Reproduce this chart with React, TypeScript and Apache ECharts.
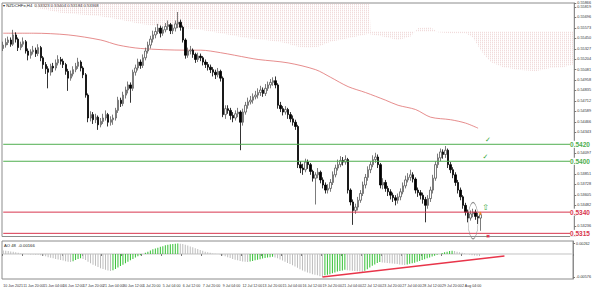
import React, { useEffect, useRef } from "react";
import * as echarts from "echarts";

// ---------- data ----------
const TOTAL_SLOTS = 229; // bars incl. right-side chart shift
const LABEL_STEP = 8;
const xLabels = [
  "10 Jun 2021", "11 Jun 20:00", "15 Jun 04:00", "16 Jun 12:00", "17 Jun 20:00", "21 Jun 04:00",
  "30 Jun 12:00", "1 Jul 20:00", "5 Jul 04:00", "6 Jul 12:00", "7 Jul 20:00", "9 Jul 04:00",
  "12 Jul 12:00", "13 Jul 20:00", "15 Jul 04:00", "16 Jul 12:00", "19 Jul 20:00", "21 Jul 04:00",
  "22 Jul 12:00", "23 Jul 20:00", "27 Jul 04:00", "28 Jul 12:00", "29 Jul 20:00", "2 Aug 04:00",
];

const opens = [
  0.5533,0.5537,0.5540,0.5543,0.5538,0.5549,0.5544,0.5534,0.5538,0.5541,
  0.5530,0.5525,0.5529,0.5531,0.5527,0.5534,0.5522,0.5514,0.5509,0.5505,
  0.5512,0.5510,0.5516,0.5520,0.5518,0.5514,0.5506,0.5498,0.5503,0.5508,
  0.5512,0.5517,0.5510,0.5502,0.5478,0.5451,0.5455,0.5449,0.5452,0.5443,
  0.5447,0.5451,0.5455,0.5446,0.5449,0.5451,0.5460,0.5472,0.5468,0.5478,
  0.5484,0.5490,0.5486,0.5505,0.5510,0.5517,0.5513,0.5522,0.5530,0.5537,
  0.5544,0.5549,0.5553,0.5557,0.5551,0.5555,0.5559,0.5561,0.5554,0.5557,
  0.5562,0.5564,0.5558,0.5543,0.5525,0.5530,0.5531,0.5526,0.5520,0.5524,
  0.5522,0.5517,0.5514,0.5511,0.5508,0.5505,0.5502,0.5506,0.5498,0.5455,
  0.5462,0.5460,0.5454,0.5451,0.5456,0.5458,0.5446,0.5458,0.5466,0.5470,
  0.5472,0.5476,0.5478,0.5481,0.5484,0.5480,0.5486,0.5490,0.5493,0.5495,
  0.5490,0.5466,0.5462,0.5458,0.5461,0.5455,0.5450,0.5446,0.5441,0.5396,
  0.5392,0.5390,0.5399,0.5396,0.5388,0.5380,0.5384,0.5387,0.5378,0.5372,
  0.5366,0.5368,0.5375,0.5384,0.5392,0.5396,0.5401,0.5399,0.5402,0.5366,
  0.5352,0.5342,0.5346,0.5354,0.5362,0.5372,0.5381,0.5390,0.5396,0.5402,
  0.5405,0.5396,0.5372,0.5375,0.5368,0.5364,0.5360,0.5357,0.5354,0.5358,
  0.5364,0.5371,0.5378,0.5381,0.5384,0.5379,0.5366,0.5363,0.5360,0.5355,
  0.5348,0.5356,0.5366,0.5380,0.5396,0.5404,0.5411,0.5408,0.5413,0.5396,
  0.5390,0.5384,0.5375,0.5366,0.5358,0.5348,0.5340,0.5333,0.5338,0.5340,
  0.5335,0.5333,
];
const closes = [
  0.5537,0.5540,0.5543,0.5538,0.5549,0.5544,0.5534,0.5538,0.5541,0.5530,
  0.5525,0.5529,0.5531,0.5527,0.5534,0.5522,0.5514,0.5509,0.5505,0.5512,
  0.5510,0.5516,0.5520,0.5518,0.5514,0.5506,0.5498,0.5503,0.5508,0.5512,
  0.5517,0.5510,0.5502,0.5478,0.5451,0.5455,0.5449,0.5452,0.5443,0.5447,
  0.5451,0.5455,0.5446,0.5449,0.5451,0.5460,0.5472,0.5468,0.5478,0.5484,
  0.5490,0.5486,0.5505,0.5510,0.5517,0.5513,0.5522,0.5530,0.5537,0.5544,
  0.5549,0.5553,0.5557,0.5551,0.5555,0.5559,0.5561,0.5554,0.5557,0.5562,
  0.5564,0.5558,0.5543,0.5525,0.5530,0.5531,0.5526,0.5520,0.5524,0.5522,
  0.5517,0.5514,0.5511,0.5508,0.5505,0.5502,0.5506,0.5498,0.5455,0.5462,
  0.5460,0.5454,0.5451,0.5456,0.5458,0.5446,0.5458,0.5466,0.5470,0.5472,
  0.5476,0.5478,0.5481,0.5484,0.5480,0.5486,0.5490,0.5493,0.5495,0.5490,
  0.5466,0.5462,0.5458,0.5461,0.5455,0.5450,0.5446,0.5441,0.5396,0.5392,
  0.5390,0.5399,0.5396,0.5388,0.5380,0.5384,0.5387,0.5378,0.5372,0.5366,
  0.5368,0.5375,0.5384,0.5392,0.5396,0.5401,0.5399,0.5402,0.5366,0.5352,
  0.5342,0.5346,0.5354,0.5362,0.5372,0.5381,0.5390,0.5396,0.5402,0.5405,
  0.5396,0.5372,0.5375,0.5368,0.5364,0.5360,0.5357,0.5354,0.5358,0.5364,
  0.5371,0.5378,0.5381,0.5384,0.5379,0.5366,0.5363,0.5360,0.5355,0.5348,
  0.5356,0.5366,0.5380,0.5396,0.5404,0.5411,0.5408,0.5413,0.5396,0.5390,
  0.5384,0.5375,0.5366,0.5358,0.5348,0.5340,0.5333,0.5338,0.5340,0.5335,
  0.5333,0.5337,
];
const highs = [
  0.5541,0.5545,0.5547,0.5546,0.5555,0.5552,0.5546,0.5541,0.5546,0.5543,
  0.5533,0.5532,0.5536,0.5534,0.5538,0.5536,0.5524,0.5517,0.5512,0.5515,
  0.5516,0.5520,0.5525,0.5523,0.5521,0.5516,0.5509,0.5507,0.5512,0.5516,
  0.5522,0.5519,0.5512,0.5504,0.5480,0.5459,0.5458,0.5456,0.5454,0.5451,
  0.5456,0.5460,0.5457,0.5453,0.5455,0.5463,0.5476,0.5475,0.5482,0.5488,
  0.5494,0.5493,0.5508,0.5514,0.5521,0.5520,0.5526,0.5534,0.5541,0.5548,
  0.5554,0.5558,0.5562,0.5560,0.5559,0.5563,0.5566,0.5563,0.5561,0.5566,
  0.5576,0.5567,0.5560,0.5545,0.5534,0.5536,0.5533,0.5528,0.5528,0.5527,
  0.5524,0.5520,0.5517,0.5514,0.5511,0.5508,0.5510,0.5508,0.5500,0.5466,
  0.5466,0.5463,0.5458,0.5460,0.5463,0.5460,0.5462,0.5470,0.5475,0.5477,
  0.5480,0.5483,0.5486,0.5489,0.5487,0.5491,0.5494,0.5497,0.5499,0.5500,
  0.5492,0.5470,0.5465,0.5465,0.5463,0.5458,0.5454,0.5449,0.5443,0.5400,
  0.5397,0.5403,0.5402,0.5398,0.5390,0.5387,0.5392,0.5389,0.5381,0.5375,
  0.5373,0.5379,0.5388,0.5396,0.5402,0.5406,0.5405,0.5407,0.5404,0.5368,
  0.5355,0.5350,0.5358,0.5366,0.5376,0.5385,0.5394,0.5400,0.5407,0.5410,
  0.5408,0.5398,0.5380,0.5378,0.5371,0.5367,0.5363,0.5360,0.5362,0.5368,
  0.5375,0.5383,0.5386,0.5390,0.5387,0.5381,0.5369,0.5366,0.5363,0.5358,
  0.5360,0.5370,0.5384,0.5400,0.5409,0.5415,0.5414,0.5418,0.5415,0.5399,
  0.5393,0.5387,0.5378,0.5369,0.5360,0.5351,0.5343,0.5342,0.5344,0.5343,
  0.5339,0.5340,
];
const lows = [
  0.5530,0.5534,0.5537,0.5535,0.5536,0.5540,0.5530,0.5531,0.5535,0.5527,
  0.5519,0.5521,0.5526,0.5523,0.5524,0.5518,0.5509,0.5503,0.5486,0.5501,
  0.5505,0.5507,0.5513,0.5514,0.5510,0.5502,0.5483,0.5495,0.5500,0.5505,
  0.5509,0.5506,0.5498,0.5475,0.5446,0.5447,0.5444,0.5445,0.5437,0.5440,
  0.5444,0.5448,0.5441,0.5442,0.5443,0.5448,0.5457,0.5464,0.5465,0.5474,
  0.5480,0.5469,0.5483,0.5501,0.5507,0.5509,0.5510,0.5519,0.5527,0.5533,
  0.5540,0.5545,0.5550,0.5546,0.5548,0.5552,0.5555,0.5550,0.5550,0.5553,
  0.5557,0.5554,0.5540,0.5521,0.5522,0.5526,0.5522,0.5516,0.5517,0.5518,
  0.5513,0.5510,0.5507,0.5504,0.5500,0.5497,0.5499,0.5494,0.5452,0.5450,
  0.5456,0.5449,0.5446,0.5448,0.5452,0.5413,0.5442,0.5455,0.5462,0.5467,
  0.5468,0.5473,0.5474,0.5477,0.5476,0.5477,0.5483,0.5486,0.5489,0.5486,
  0.5462,0.5458,0.5454,0.5455,0.5450,0.5446,0.5442,0.5437,0.5392,0.5386,
  0.5384,0.5387,0.5391,0.5384,0.5376,0.5349,0.5380,0.5374,0.5368,0.5362,
  0.5362,0.5364,0.5372,0.5381,0.5389,0.5393,0.5395,0.5396,0.5362,0.5348,
  0.5325,0.5338,0.5342,0.5351,0.5359,0.5368,0.5377,0.5386,0.5393,0.5398,
  0.5392,0.5368,0.5367,0.5364,0.5359,0.5355,0.5352,0.5348,0.5350,0.5354,
  0.5361,0.5368,0.5375,0.5377,0.5375,0.5362,0.5358,0.5355,0.5350,0.5328,
  0.5344,0.5352,0.5362,0.5377,0.5392,0.5400,0.5403,0.5404,0.5392,0.5386,
  0.5380,0.5371,0.5362,0.5354,0.5344,0.5336,0.5328,0.5330,0.5334,0.5331,
  0.5326,0.5318,
];

// Awesome-oscillator style histogram (lower pane)
const aoValues = [
  0.00087,0.00079,0.00072,0.00065,0.00058,0.00043,0.00029,0.00014,0.00007,0,
  -0.00007,-0.00014,-0.00014,-0.00022,-0.00022,-0.00029,
  -0.00043,-0.00058,-0.00079,-0.00094,-0.00108,-0.00123,-0.00137,-0.00152,-0.00166,-0.00181,-0.00195,-0.00202,
  -0.00181,-0.00152,-0.00123,-0.00108,
  -0.00123,-0.00152,-0.00195,-0.00231,-0.00267,-0.00296,-0.00325,-0.00354,-0.00376,-0.00397,-0.00412,-0.00426,
  -0.00405,-0.00376,-0.0034,-0.00303,-0.00267,-0.00231,-0.00195,-0.00159,-0.00123,-0.00087,-0.00058,-0.00029,0,
  0.00029,0.00058,0.00087,0.00116,0.00137,0.00159,0.00181,0.00195,0.00217,0.0023,0.00242,0.00252,0.00258,0.00262,
  0.00258,0.00248,0.00231,0.0021,0.00188,0.00166,0.00145,0.00123,0.00101,0.00079,0.00058,0.00043,0.00029,0.00014,0.00007,0,
  -0.00014,-0.00036,-0.00058,-0.00079,-0.00101,-0.00123,-0.00145,-0.00159,-0.00173,-0.00188,-0.00195,-0.00202,
  -0.00188,-0.00173,-0.00159,-0.00145,-0.0013,-0.00116,-0.00101,-0.00087,-0.00079,-0.00072,
  -0.00087,-0.00108,-0.00137,-0.00166,-0.00195,-0.00224,-0.00253,-0.00282,-0.00311,-0.00347,
  -0.00383,-0.00412,-0.00441,-0.00462,-0.00484,-0.00506,-0.0052,-0.00535,-0.00555,-0.00576,
  -0.00535,-0.0052,-0.00506,-0.00484,-0.00462,-0.00441,-0.00426,-0.00412,-0.00397,
  -0.00405,-0.00412,-0.00419,-0.00426,-0.00434,-0.00441,-0.00448,
  -0.00419,-0.00383,-0.0034,-0.00296,-0.0026,-0.00224,-0.00202,
  -0.0021,-0.00217,-0.00224,-0.00231,-0.00238,-0.00246,-0.00253,-0.0026,-0.00267,-0.00275,
  -0.0026,-0.00246,-0.00231,-0.00217,-0.00195,-0.00173,-0.00152,-0.0013,-0.00108,-0.00087,
  -0.00065,-0.00043,-0.00022,0,0.00022,0.00043,0.00058,0.00072,0.00079,
  0.00072,0.00058,0.00043,0.00029,0.00014,0,-0.00014,-0.00029,-0.00036,-0.00043,-0.00051,
];
const aoLabelValues = [-0.00576, 0.00262];

// moving average [barIndex, price]
const maPoints = [
  [0,0.5551],[12,0.5551],[26,0.5549],[39,0.5543],[46,0.5537],[55,0.5533],[73,0.5531],[79,0.5531],
  [87,0.5528],[98,0.5522],[102,0.5520],[114,0.5516],[125,0.5508],[131,0.5499],[138,0.5488],[145,0.5481],
  [153,0.5472],[158,0.5466],[165,0.5461],[171,0.5452],[179,0.5449],[185,0.5445],[190,0.5439],
];
// Ichimoku cloud boundaries [barIndex, price]
const cloudUpper = [[10,0.5620],[146,0.5620],[147,0.5553],[228,0.5553]];
const cloudLower = [
  [10,0.5600],[13,0.5581],[23,0.5575],[39,0.5571],[47,0.5567],[55,0.5562],[67,0.5558],[79,0.5555],
  [87,0.5551],[98,0.5545],[105,0.5543],[112,0.5540],[118,0.5535],[122,0.5534],[126,0.5535],[131,0.5541],
  [138,0.5545],[146,0.5550],[152,0.5547],[158,0.5543],[163,0.5547],[166,0.5557],[171,0.5558],[174,0.5552],
  [179,0.5551],[185,0.5551],[188,0.5546],[191,0.5531],[195,0.5517],[200,0.5511],[206,0.5508],[213,0.5506],
  [219,0.5510],[224,0.5511],[228,0.5514],
];
// horizontal levels
const levels = [0.5420, 0.5400, 0.5340, 0.5315];
const levelColors = ["#4fae4f", "#4fae4f", "#d8364e", "#d8364e"];
// trend line on oscillator [barIndex, value]
const trendPoints = [[128, -0.00576], [201, -0.0005]];
// annotations [barIndex, price]
const checkMarks = [[194, 0.5425], [193, 0.5405]];
const crossMark = [194, 0.5312];
const arrowMark = [193, 0.5346];
const buyMark = [191, 0.5339];
const ellipseMark = [188, 0.5330];

const PRICE_MIN = 0.531127;
const PRICE_MAX = 0.558662;
const PRICE_STEP = 0.00123;
const AO_MIN = -0.00626;
const AO_MAX = 0.00325;
const LABEL_CLEARANCE = 0.00062; // axis labels hidden behind level labels

const FONT = "Liberation Sans";

export default function App() {
  const ref = useRef<HTMLDivElement>(null);
  useEffect(() => {
    if (!ref.current) return;
    const chart = echarts.init(ref.current, undefined, { renderer: "svg" });

    const cv = document.createElement("canvas");
    cv.width = 2;
    cv.height = 2;
    const ctx = cv.getContext("2d");
    if (ctx) {
      ctx.fillStyle = "rgba(225,175,175,0.45)";
      ctx.fillRect(0, 0, 1, 1);
      ctx.fillStyle = "rgba(225,190,190,0.2)";
      ctx.fillRect(0, 1, 1, 1);
    }
    const hatch: any = { image: cv, repeat: "repeat", imageWidth: 2, imageHeight: 2 };

    const cats = Array.from({ length: TOTAL_SLOTS }, (_, i) => String(i));
    const candleData = closes.map((c, i) => [opens[i], c, lows[i], highs[i]]);
    const aoData = aoValues.map((v, i) => ({
      value: v,
      itemStyle: { color: i > 0 && v > aoValues[i - 1] ? "#35c035" : "#bdbdbd" },
    }));

    const textMark = (coord: number[], text: string, color: string, size: number) => ({
      coord,
      symbol: "rect",
      symbolSize: 1,
      itemStyle: { color: "rgba(0,0,0,0)" },
      label: { show: true, formatter: text, color, fontSize: size, position: "inside", fontFamily: "DejaVu Sans" },
    });

    const levelSeries = levels.map((v, k) => ({
      type: "line",
      xAxisIndex: 0,
      yAxisIndex: 0,
      data: [[0, v], [TOTAL_SLOTS - 1, v]],
      symbol: "none",
      silent: true,
      z: 4,
      lineStyle: { color: levelColors[k], width: 1 },
      endLabel: {
        show: true,
        formatter: v.toFixed(4),
        color: levelColors[k],
        fontSize: 6.5,
        fontWeight: "bold",
        fontFamily: FONT,
        distance: -3,
        backgroundColor: "#ffffff",
        padding: [0, 0, 0, 0],
      },
    }));

    chart.setOption({
      animation: false,
      backgroundColor: "#ffffff",
      textStyle: { fontFamily: FONT },
      grid: [
        { left: 2, right: 15, top: 3, height: 233.5, show: true, borderColor: "#8c8c8c", borderWidth: 1 },
        { left: 2, right: 15, top: 241, height: 38, show: true, borderColor: "#8c8c8c", borderWidth: 1 },
      ],
      xAxis: [
        { type: "category", gridIndex: 0, data: cats, show: false },
        {
          type: "category",
          gridIndex: 1,
          data: cats,
          axisLine: { show: false },
          axisTick: {
            show: true,
            length: 2,
            lineStyle: { color: "#777" },
            interval: (idx: number) => idx % LABEL_STEP === 0 && idx / LABEL_STEP < xLabels.length,
          },
          axisLabel: {
            show: true,
            fontSize: 3.6,
            color: "#333",
            margin: 5,
            align: "left",
            fontFamily: FONT,
            interval: (idx: number) => idx % LABEL_STEP === 0 && idx / LABEL_STEP < xLabels.length,
            formatter: (_v: string, idx: number) => xLabels[Math.round(idx / LABEL_STEP)] || "",
          },
          splitLine: { show: false },
        },
      ],
      yAxis: [
        {
          type: "value",
          gridIndex: 0,
          position: "right",
          min: PRICE_MIN,
          max: PRICE_MAX,
          interval: PRICE_STEP,
          splitLine: { show: false },
          axisLine: { show: true, lineStyle: { color: "#8c8c8c" } },
          axisTick: { show: true, length: 2, lineStyle: { color: "#777" } },
          axisLabel: {
            fontSize: 3.8,
            color: "#333",
            margin: 3,
            fontFamily: FONT,
            formatter: (v: number) =>
              levels.some((l) => Math.abs(l - v) < LABEL_CLEARANCE) ? "" : v.toFixed(5),
          },
        },
        {
          type: "value",
          gridIndex: 1,
          position: "right",
          min: AO_MIN,
          max: AO_MAX,
          splitLine: { show: false },
          axisLine: { show: true, lineStyle: { color: "#8c8c8c" } },
          axisTick: { show: true, length: 2, customValues: aoLabelValues, lineStyle: { color: "#777" } },
          axisLabel: {
            fontSize: 3.8,
            color: "#333",
            margin: 3,
            fontFamily: FONT,
            customValues: aoLabelValues,
            formatter: (v: number) => v.toFixed(5),
          },
        },
      ],
      series: [
        {
          type: "custom",
          xAxisIndex: 0,
          yAxisIndex: 0,
          clip: true,
          silent: true,
          z: 1,
          data: [0],
          renderItem: (_p: any, api: any) => {
            const pts: number[][] = [];
            cloudUpper.forEach((d) => pts.push(api.coord(d)));
            cloudLower.slice().reverse().forEach((d) => pts.push(api.coord(d)));
            return { type: "polygon", shape: { points: pts }, style: { fill: hatch, stroke: null } };
          },
        },
        {
          type: "line",
          xAxisIndex: 0,
          yAxisIndex: 0,
          data: maPoints,
          smooth: 0.3,
          symbol: "none",
          z: 2,
          lineStyle: { color: "#e07070", width: 0.8 },
          silent: true,
        },
        ...levelSeries,
        {
          type: "candlestick",
          xAxisIndex: 0,
          yAxisIndex: 0,
          data: candleData,
          barWidth: 1.9,
          z: 3,
          itemStyle: {
            color: "#ffffff",
            color0: "#000000",
            borderColor: "#5a5a5a",
            borderColor0: "#000000",
            borderWidth: 0.8,
          },
          markPoint: {
            silent: true,
            data: [
              ...checkMarks.map((c) => textMark(c, "✓", "#3aa83a", 7)),
              textMark(crossMark, "✖", "#e0304a", 5),
              textMark(arrowMark, "⇧", "#3aa83a", 8),
              textMark(buyMark, "▲", "#f08a1c", 4),
              {
                coord: ellipseMark,
                symbol: "circle",
                symbolSize: [10, 36],
                itemStyle: { color: "rgba(0,0,0,0)", borderColor: "#8a8a8a", borderWidth: 0.7 },
                label: { show: false },
              },
            ],
          },
        },
        {
          type: "bar",
          xAxisIndex: 1,
          yAxisIndex: 1,
          data: aoData,
          barWidth: 1,
          silent: true,
        },
        {
          type: "line",
          xAxisIndex: 1,
          yAxisIndex: 1,
          data: [[0, 0], [TOTAL_SLOTS - 1, 0]],
          symbol: "none",
          lineStyle: { color: "#9a9a9a", width: 0.6 },
          silent: true,
          z: 1,
        },
        {
          type: "line",
          xAxisIndex: 1,
          yAxisIndex: 1,
          data: trendPoints,
          symbol: "none",
          lineStyle: { color: "#e8354a", width: 1.4 },
          silent: true,
          z: 4,
        },
      ],
      graphic: [
        {
          type: "text",
          left: 3,
          top: 3,
          style: { text: "▾ NZDCHFe,H4  0.53323 0.53404 0.53184 0.53368", fontSize: 4.2, fill: "#222", fontFamily: FONT },
        },
        {
          type: "text",
          left: 4,
          top: 243,
          style: { text: "AO 48  -0.00166", fontSize: 4.2, fill: "#222", fontFamily: FONT },
        },
      ],
    });
    return () => chart.dispose();
  }, []);
  return <div ref={ref} style={{ position: "fixed", left: 0, top: 0, width: 594, height: 290 }} />;
}
